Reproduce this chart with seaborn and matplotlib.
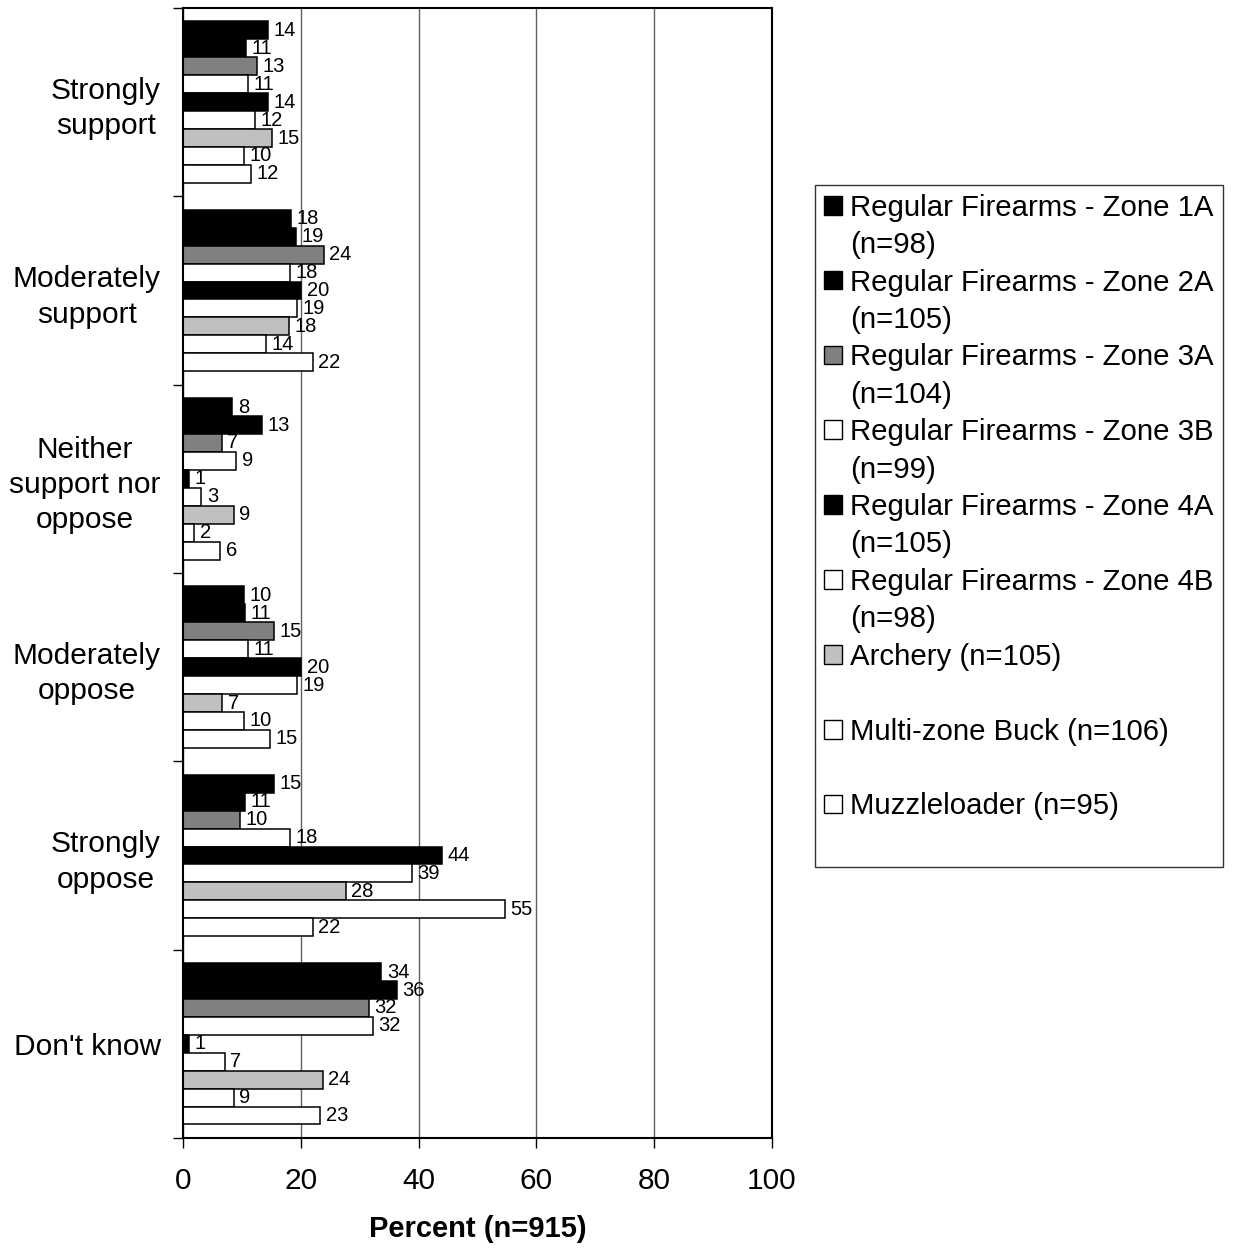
import numpy as np
import pandas as pd
import seaborn as sns
import matplotlib.pyplot as plt
from matplotlib.patches import Patch

# responses (top to bottom)
responses = ["Strongly\nsupport", "Moderately\nsupport", "Neither\nsupport nor\noppose",
             "Moderately\noppose", "Strongly\noppose", "Don't know"]

groups = ["Regular Firearms - Zone 1A (n=98)", "Regular Firearms - Zone 2A (n=105)",
          "Regular Firearms - Zone 3A (n=104)", "Regular Firearms - Zone 3B (n=99)",
          "Regular Firearms - Zone 4A (n=105)", "Regular Firearms - Zone 4B (n=98)",
          "Archery (n=105)", "Multi-zone Buck (n=106)", "Muzzleloader (n=95)"]
legend_rows = [("Regular Firearms - Zone 1A", "(n=98)"), ("Regular Firearms - Zone 2A", "(n=105)"),
               ("Regular Firearms - Zone 3A", "(n=104)"), ("Regular Firearms - Zone 3B", "(n=99)"),
               ("Regular Firearms - Zone 4A", "(n=105)"), ("Regular Firearms - Zone 4B", "(n=98)"),
               ("Archery (n=105)", ""), ("Multi-zone Buck (n=106)", ""), ("Muzzleloader (n=95)", "")]
colors = ["#000000", "#000000", "#808080", "#ffffff", "#000000", "#ffffff",
          "#c0c0c0", "#ffffff", "#ffffff"]

# percent values per group, in response order
zone_1a = [14.4, 18.4, 8.4, 10.3, 15.4, 33.7]
zone_2a = [10.7, 19.2, 13.4, 10.6, 10.6, 36.3]
zone_3a = [12.6, 23.9, 6.6, 15.4, 9.6, 31.6]
zone_3b = [11.1, 18.1, 9.0, 11.0, 18.2, 32.2]
zone_4a = [14.4, 20.1, 1.0, 20.1, 43.9, 1.0]
zone_4b = [12.3, 19.4, 3.1, 19.4, 38.8, 7.1]
archery = [15.1, 18.0, 8.6, 6.7, 27.6, 23.7]
multi_zone = [10.3, 14.1, 1.9, 10.3, 54.7, 8.6]
muzzleloader = [11.6, 22.0, 6.3, 14.7, 22.0, 23.3]

wide = pd.DataFrame({"response": responses}).assign(
    **dict(zip(groups, [zone_1a, zone_2a, zone_3a, zone_3b, zone_4a, zone_4b,
                        archery, multi_zone, muzzleloader])))
df = wide.melt(id_vars="response", var_name="group", value_name="percent")

sns.set_theme(style="white")
plt.rcParams['font.family'] = ['Liberation Sans', 'DejaVu Sans']
plt.rcParams.update({"text.color": "black", "axes.labelcolor": "black",
                     "xtick.color": "black", "ytick.color": "black"})

fig = plt.figure(figsize=(12.33, 12.49), dpi=100)
ax = fig.add_axes([0.1484, 0.0889, 0.4777, 0.9047])

sns.barplot(data=df, y="response", x="percent", hue="group", hue_order=groups,
            order=responses, palette=colors, orient="h", width=0.857, saturation=1,
            edgecolor="black", linewidth=1.1, errorbar=None, legend=False, ax=ax)

for cont in ax.containers:
    ax.bar_label(cont, fmt="%.0f", padding=4, fontsize=14.5, color="black")

ax.set_xlim(0, 100)
ax.set_ylim(5.5, -0.5)
ax.set_xticks(range(0, 101, 20))
ax.set_yticks(np.arange(-0.5, 6, 1))
ax.set_yticklabels([])
ax.set_yticks(range(6), responses, minor=True)
for lbl in ax.get_yticklabels(minor=True):
    lbl.set_multialignment("center")
    lbl.set_linespacing(1.32)
ax.tick_params(axis="y", which="minor", length=0, pad=16, labelsize=21.5)
ax.tick_params(axis="y", which="major", length=7, width=1, direction="out", left=True)
ax.tick_params(axis="x", length=7, width=1, direction="out", bottom=True, pad=14, labelsize=21.5)
ax.set_ylabel("")
ax.set_xlabel("Percent (n=915)", fontsize=21, fontweight="bold", labelpad=14)

ax.grid(axis="x", color="#606060", lw=1)
ax.set_axisbelow(True)
for sp in ax.spines.values():
    sp.set_visible(True)
    sp.set_color("black")
    sp.set_linewidth(1.5)

# legend: two rows per group so single-line entries keep the same spacing
handles, labels = [], []
for (first, second), c in zip(legend_rows, colors):
    handles.append(Patch(facecolor=c, edgecolor="black", linewidth=1))
    labels.append(first)
    handles.append(Patch(facecolor="none", edgecolor="none"))
    labels.append(second if second else " ")
leg = fig.legend(handles, labels, loc="upper left", bbox_to_anchor=(0.661, 0.852),
                 fontsize=21.2, frameon=True, fancybox=False, edgecolor="black",
                 handlelength=0.6, handleheight=0.6, handletextpad=0.3,
                 labelspacing=0.32, borderpad=0.3, borderaxespad=0)
leg.get_frame().set_linewidth(1)

fig.savefig("out.png", dpi=100, facecolor="white")
